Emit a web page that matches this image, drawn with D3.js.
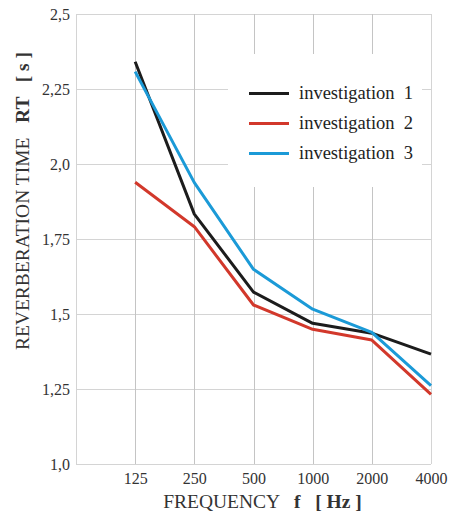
<!DOCTYPE html>
<html>
<head>
<meta charset="utf-8">
<script src="https://cdn.jsdelivr.net/npm/d3@7"></script>
<style>
	body { margin: 0; background: #fff; }
	svg { display: block; font-family: 'Liberation Serif', 'Times New Roman', serif; }
	text { white-space: pre; }
</style>
</head>
<body>
<svg width="451" height="515"></svg>
<script>
// frequency bands (Hz)
const frequencies = ['125', '250', '500', '1000', '2000', '4000'];
// reverberation time RT [s]
const investigation1 = [2.341, 1.833, 1.573, 1.469, 1.436, 1.366];
const investigation2 = [1.939, 1.791, 1.530, 1.449, 1.413, 1.232];
const investigation3 = [2.308, 1.938, 1.649, 1.516, 1.439, 1.261];
const seriesNames = ['investigation  1', 'investigation  2', 'investigation  3'];
const yTicks = [1.0, 1.25, 1.5, 1.75, 2.0, 2.25, 2.5];
const yTickLabels = ['1,0', '1,25', '1,5', '1,75', '2,0', '2,25', '2,5'];

const colors = ['#1c1c1c', '#d2382b', '#1b9ad7'];
const series = [investigation1, investigation2, investigation3];

const svg = d3.select('svg');
const plotLeft = 76, plotRight = 431, plotTop = 14, plotBottom = 464;

// one empty step left of 125 Hz
const x = d3.scaleLinear().domain([-1, frequencies.length - 1]).range([plotLeft, plotRight]);
const y = d3.scaleLinear().domain([1, 2.5]).range([plotBottom, plotTop]);

// horizontal grid
svg.append('g')
	.selectAll('line')
	.data(yTicks)
	.join('line')
	.attr('x1', plotLeft)
	.attr('x2', plotRight)
	.attr('y1', (d) => y(d) + 0.5)
	.attr('y2', (d) => y(d) + 0.5)
	.attr('stroke', '#d4d4d4')
	.attr('stroke-width', 1);

// vertical grid
svg.append('g')
	.selectAll('line')
	.data(d3.range(-1, frequencies.length))
	.join('line')
	.attr('x1', (d) => Math.round(x(d)) + 0.5)
	.attr('x2', (d) => Math.round(x(d)) + 0.5)
	.attr('y1', plotTop)
	.attr('y2', plotBottom)
	.attr('stroke', (d, i) => (i === 0 || i === frequencies.length) ? '#d4d4d4' : '#c4c4c4')
	.attr('stroke-width', 1);

// y tick labels
svg.append('g')
	.attr('transform', 'translate(' + (plotLeft - 6) + ',0)')
	.call(d3.axisLeft(y).tickValues(yTicks).tickSize(0).tickPadding(0)
		.tickFormat((d, i) => yTickLabels[i]))
	.call((g) => g.select('.domain').remove())
	.selectAll('text')
	.attr('font-family', "'Liberation Serif', serif")
	.attr('font-size', 16)
	.attr('fill', '#333')
	.attr('dy', '0.35em');

// x tick labels
svg.append('g')
	.attr('transform', 'translate(0,' + (plotBottom + 8) + ')')
	.call(d3.axisBottom(x).tickValues(d3.range(frequencies.length)).tickSize(0).tickPadding(0)
		.tickFormat((d) => frequencies[d]))
	.call((g) => g.select('.domain').remove())
	.selectAll('text')
	.attr('font-family', "'Liberation Serif', serif")
	.attr('font-size', 16)
	.attr('fill', '#333')
	.attr('dy', '0.75em');

// legend box (white, hides grid)
const legend = svg.append('g');
legend.append('rect')
	.attr('x', 228)
	.attr('y', 54)
	.attr('width', 194)
	.attr('height', 133)
	.attr('fill', '#fff');

const legendItem = legend.selectAll('g')
	.data(seriesNames)
	.join('g')
	.attr('transform', (d, i) => 'translate(249,' + (93.5 + i * 30) + ')');
legendItem.append('line')
	.attr('x1', 0)
	.attr('x2', 40)
	.attr('stroke', (d, i) => colors[i])
	.attr('stroke-width', 3);
legendItem.append('text')
	.attr('x', 50)
	.attr('dy', '0.3em')
	.attr('font-size', 18.5)
	.attr('fill', '#222')
	.text((d) => d);

// data lines
const line = d3.line()
	.x((d, i) => x(i))
	.y((d) => y(d));

svg.append('g')
	.selectAll('path')
	.data(series)
	.join('path')
	.attr('fill', 'none')
	.attr('stroke', (d, i) => colors[i])
	.attr('stroke-width', 3)
	.attr('stroke-linejoin', 'round')
	.attr('d', line);

// axis titles
const xTitle = svg.append('text')
	.attr('x', 262.5)
	.attr('y', 508)
	.attr('text-anchor', 'middle')
	.attr('font-size', 19.5)
	.attr('fill', '#333');
xTitle.append('tspan').text('FREQUENCY   ');
xTitle.append('tspan').attr('font-weight', 'bold').text('f   [ Hz ]');

const yTitle = svg.append('text')
	.attr('transform', 'translate(29,201) rotate(-90)')
	.attr('text-anchor', 'middle')
	.attr('font-size', 19.5)
	.attr('fill', '#333');
yTitle.append('tspan').text('REVERBERATION TIME   ');
yTitle.append('tspan').attr('font-weight', 'bold').text('RT   [ s ]');
</script>
</body>
</html>
